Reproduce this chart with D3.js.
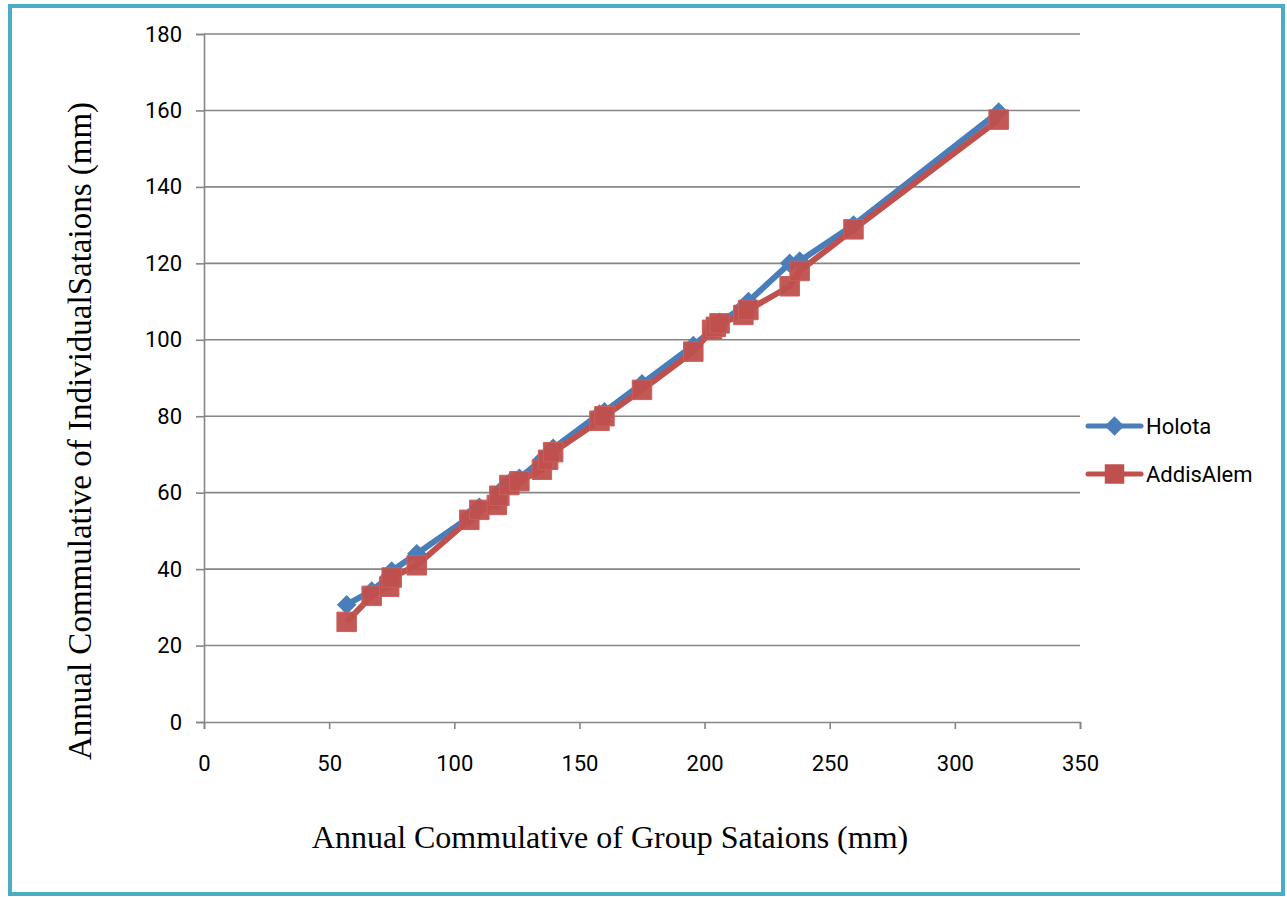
<!DOCTYPE html>
<html>
<head>
<meta charset="utf-8">
<script src="https://cdn.jsdelivr.net/npm/d3@7"></script>
<style>
  html, body { margin: 0; padding: 0; background: #fff; }
  svg { display: block; }
</style>
</head>
<body>
<svg id="chart" width="1287" height="897"></svg>
<script>
// Annual cumulative rainfall: group stations (x) vs. each individual station (y), mm
const groupStations = [57, 67, 74, 75, 85, 106, 110, 117, 118, 122, 126, 135, 137.5, 139.5, 158, 160, 175, 195.5, 203, 204.5, 206, 215.5, 217.5, 234, 238, 259.5, 317.5];
const holota        = [30.7, 34.3, 38.0, 39.5, 44.0, 53.6, 56.2, 57.8, 60.2, 62.6, 63.8, 68.6, 69.8, 71.6, 80.6, 81.2, 88.5, 98.5, 102.6, 103.6, 104.6, 108.6, 110.0, 120.0, 120.6, 130.0, 159.6];
const addisAlem     = [26.2, 33.0, 35.4, 37.8, 41.0, 52.9, 55.5, 56.8, 59.2, 62.0, 63.0, 66.0, 68.6, 70.6, 78.8, 80.0, 86.9, 96.9, 102.6, 103.4, 104.3, 106.5, 107.8, 114.0, 118.0, 128.9, 157.6];

const xTicks = [0, 50, 100, 150, 200, 250, 300, 350];
const yTicks = [0, 20, 40, 60, 80, 100, 120, 140, 160, 180];

const seriesNames = ["Holota", "AddisAlem"];
const seriesColors = { Holota: "#4a7ebb", AddisAlem: "#c0504d" };

const svg = d3.select("#chart");
const W = 1287, H = 897;

// outer frame
svg.append("rect")
  .attr("x", 10).attr("y", 6)
  .attr("width", W - 14).attr("height", H - 9)
  .attr("fill", "#fff")
  .attr("stroke", "#4bacc6").attr("stroke-width", 4);

const plot = { left: 204, right: 1080, top: 34, bottom: 722 };

const x = d3.scaleLinear().domain([0, 350]).range([plot.left, plot.right]);
const y = d3.scaleLinear().domain([0, 180]).range([plot.bottom, plot.top]);

const axisColor = "#868686";
const tickFont = "Roboto, 'Liberation Sans', sans-serif";
const titleFont = "'Liberation Serif', 'Times New Roman', serif";

// horizontal gridlines
svg.append("g")
  .selectAll("line")
  .data(yTicks.filter(t => t > 0))
  .join("line")
  .attr("x1", plot.left).attr("x2", plot.right)
  .attr("y1", d => y(d)).attr("y2", d => y(d))
  .attr("stroke", axisColor).attr("stroke-width", 1.6);

// y axis
const yAxis = svg.append("g")
  .attr("transform", `translate(${plot.left},0)`)
  .call(d3.axisLeft(y).tickValues(yTicks).tickSize(8).tickPadding(14));
yAxis.select(".domain").attr("stroke", axisColor).attr("stroke-width", 1.6);
yAxis.selectAll(".tick line").attr("stroke", axisColor).attr("stroke-width", 1.6);
yAxis.selectAll(".tick text")
  .attr("fill", "#000").attr("font-family", tickFont).attr("font-size", 22);

// x axis
const xAxis = svg.append("g")
  .attr("transform", `translate(0,${plot.bottom})`)
  .call(d3.axisBottom(x).tickValues(xTicks).tickSize(7).tickPadding(26));
xAxis.select(".domain").attr("stroke", axisColor).attr("stroke-width", 1.6);
xAxis.selectAll(".tick line").attr("stroke", axisColor).attr("stroke-width", 1.6);
xAxis.selectAll(".tick text")
  .attr("fill", "#000").attr("font-family", tickFont).attr("font-size", 22);

// axis titles
svg.append("text")
  .attr("x", 610).attr("y", 848)
  .attr("text-anchor", "middle")
  .attr("font-family", titleFont)
  .attr("font-size", 32)
  .text("Annual Commulative of Group Sataions (mm)");

svg.append("text")
  .attr("transform", "translate(91,431) rotate(-90)")
  .attr("text-anchor", "middle")
  .attr("font-family", titleFont)
  .attr("font-size", 33)
  .text("Annual Commulative of IndividualSataions (mm)");

// series
const seriesData = {
  Holota: groupStations.map((g, i) => [g, holota[i]]),
  AddisAlem: groupStations.map((g, i) => [g, addisAlem[i]])
};

const line = d3.line().x(d => x(d[0])).y(d => y(d[1]));
const diamond = d3.symbol().type(d3.symbolSquare).size(190);
const square = d3.symbol().type(d3.symbolSquare).size(380);

function drawSeries(name) {
  const color = seriesColors[name];
  const data = seriesData[name];
  const g = svg.append("g");
  g.append("path")
    .datum(data)
    .attr("d", line)
    .attr("fill", "none")
    .attr("stroke", color)
    .attr("stroke-width", 6)
    .attr("stroke-linejoin", "round");
  if (name === "Holota") {
    g.selectAll("path.m")
      .data(data)
      .join("path")
      .attr("class", "m")
      .attr("d", diamond)
      .attr("transform", d => `translate(${x(d[0])},${y(d[1])}) rotate(45)`)
      .attr("fill", color);
  } else {
    g.selectAll("path.m")
      .data(data)
      .join("path")
      .attr("class", "m")
      .attr("d", square)
      .attr("transform", d => `translate(${x(d[0])},${y(d[1])})`)
      .attr("fill", color)
      .attr("fill-opacity", 0.95)
      .attr("stroke", "#c9605d")
      .attr("stroke-width", 1);
  }
}
seriesNames.forEach(drawSeries);

// legend
const legend = svg.append("g");
seriesNames.forEach((name, i) => {
  const ly = 426 + i * 48;
  const color = seriesColors[name];
  legend.append("line")
    .attr("x1", 1088).attr("x2", 1141)
    .attr("y1", ly).attr("y2", ly)
    .attr("stroke", color).attr("stroke-width", 5)
    .attr("stroke-linecap", "round");
  if (name === "Holota") {
    legend.append("path")
      .attr("d", diamond)
      .attr("transform", `translate(1114.5,${ly}) rotate(45)`)
      .attr("fill", color);
  } else {
    legend.append("path")
      .attr("d", square)
      .attr("transform", `translate(1114.5,${ly})`)
      .attr("fill", color);
  }
  legend.append("text")
    .attr("x", 1146).attr("y", ly + 8)
    .attr("font-family", tickFont)
    .attr("font-size", 22)
    .text(name);
});
</script>
</body>
</html>
